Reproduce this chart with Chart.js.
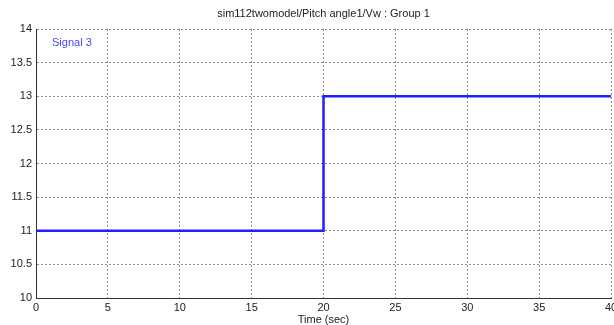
<!DOCTYPE html>
<html>
<head>
<meta charset="utf-8">
<script src="https://cdn.jsdelivr.net/npm/chart.js@4/dist/chart.umd.min.js"></script>
<style>
  html, body { margin: 0; padding: 0; background: #fff; }
  #wrap { width: 614px; height: 325px; }
</style>
</head>
<body>
<div id="wrap"><canvas id="grafico" width="614" height="325"></canvas></div>
<script>
// step signal: Vw jumps from 11 to 13 at t = 20 s
const tempo = [0, 20, 20, 40];
const sinal3 = [11, 11, 13, 13];
const xTicks = [0, 5, 10, 15, 20, 25, 30, 35, 40];
const yTicks = [10, 10.5, 11, 11.5, 12, 12.5, 13, 13.5, 14];
const titulo = "sim112twomodel/Pitch angle1/Vw : Group 1";
const legenda = "Signal 3";

const FONTE = "'Liberation Sans', Arial, sans-serif";

// textos desenhados à mão (titulo e legenda dentro do grafico)
const textos = {
    id: "textos",
    afterDraw(chart) {
        const ctx = chart.ctx;
        const a = chart.chartArea;
        ctx.save();
        ctx.font = "11px " + FONTE;
        ctx.fillStyle = "#222";
        ctx.textAlign = "center";
        ctx.textBaseline = "middle";
        ctx.fillText(titulo, (a.left + a.right) / 2, 14);
        ctx.textAlign = "left";
        ctx.fillStyle = "#4646ff";
        ctx.fillText(legenda, 52, 43);
        ctx.restore();
    }
};

new Chart(document.getElementById("grafico").getContext("2d"), {
    type: "line",
    data: {
        datasets: [{
            label: legenda,
            data: tempo.map((t, i) => ({ x: t, y: sinal3[i] })),
            borderColor: "#1f1fff",
            borderWidth: 2.5,
            pointRadius: 0,
            tension: 0,
            fill: false
        }]
    },
    options: {
        responsive: false,
        animation: false,
        layout: { padding: { top: 29, right: 3, left: 0, bottom: 0 } },
        plugins: {
            legend: { display: false },
            title: { display: false },
            tooltip: { enabled: false }
        },
        scales: {
            x: {
                type: "linear",
                min: 0,
                max: 40,
                afterBuildTicks: s => { s.ticks = xTicks.map(v => ({ value: v })); },
                afterFit: s => { s.height = 27; s.paddingLeft = 0; s.paddingRight = 0; },
                ticks: { font: { size: 11, family: FONTE }, color: "#222", padding: 3, maxRotation: 0, callback: v => String(v) },
                grid: { color: "#8a8a8a", lineWidth: 1, drawTicks: false },
                border: { color: "#333", width: 1, dash: [2, 2] },
                title: { display: true, text: "Time (sec)", font: { size: 11, family: FONTE }, color: "#222", padding: { top: 0, bottom: -2 } }
            },
            y: {
                min: 10,
                max: 14,
                afterBuildTicks: s => { s.ticks = yTicks.map(v => ({ value: v })); },
                afterFit: s => { s.width = 36; s.paddingTop = 0; s.paddingBottom = 0; },
                ticks: { font: { size: 11, family: FONTE }, color: "#222", padding: 4, callback: v => String(v) },
                grid: { color: "#8a8a8a", lineWidth: 1, drawTicks: false },
                border: { color: "#333", width: 1, dash: [2, 2] }
            }
        }
    },
    plugins: [textos]
});
</script>
</body>
</html>
